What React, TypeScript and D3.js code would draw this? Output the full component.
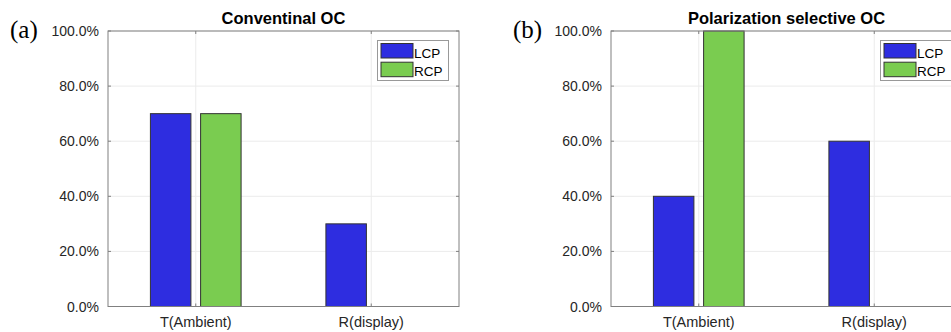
import * as React from "react";
import * as d3 from "d3";

const categories = ["T(Ambient)", "R(display)"];
const seriesNames = ["LCP", "RCP"];
const seriesColors = ["#2e2de0", "#7acc50"];
const yTicks = [0, 20, 40, 60, 80, 100];

// values in percent, null = no bar
const conventionalLCP = [70, 30];
const conventionalRCP = [70, null];
const selectiveLCP = [40, 60];
const selectiveRCP = [100, null];

const panels = [
  { label: "(a)", title: "Conventinal OC", series: [conventionalLCP, conventionalRCP], left: 108 },
  { label: "(b)", title: "Polarization selective OC", series: [selectiveLCP, selectiveRCP], left: 611 },
];

const W = 951;
const H = 332;
const top = 31;
const plotW = 351;
const plotH = 275.5;
const barW = 40.5;
const barOffset = 0.143;
const axisColor = "#808080";
const textColor = "#262626";
const sans = "Arial, 'Liberation Sans', sans-serif";

const Panel = (props) => {
  const { label, title, series, left } = props;

  const x = d3.scaleLinear().domain([0.5, 2.5]).range([0, plotW]);
  const y = d3.scaleLinear().domain([0, 100]).range([plotH, 0]);
  const fmt = (d) => d3.format(".1f")(d) + "%";

  return (
    <g transform={`translate(${left},${top})`}>
      <text x={-98} y={6.5} fontFamily="'Liberation Serif', serif" fontSize={25} fill="#000">
        {label}
      </text>
      <text
        x={plotW / 2}
        y={-7}
        textAnchor="middle"
        fontFamily={sans}
        fontWeight="bold"
        fontSize={16.5}
        fill="#000"
      >
        {title}
      </text>

      {/* grid */}
      {yTicks.map((t) => (
        <line key={"gy" + t} x1={0} x2={plotW} y1={y(t)} y2={y(t)} stroke="#ebebeb" />
      ))}
      {categories.map((c, i) => (
        <line key={"gx" + c} x1={x(i + 1)} x2={x(i + 1)} y1={0} y2={plotH} stroke="#ebebeb" />
      ))}

      {/* bars */}
      {series.map((vals, s) =>
        vals.map((v, i) => {
          if (v === null) return null;
          const cx = x(i + 1 + (s === 0 ? -barOffset : barOffset));
          return (
            <rect
              key={`b${s}-${i}`}
              x={cx - barW / 2}
              y={y(v)}
              width={barW}
              height={plotH - y(v)}
              fill={seriesColors[s]}
              stroke="#333"
              strokeWidth={1}
            />
          );
        })
      )}

      {/* box */}
      <rect x={0} y={0} width={plotW} height={plotH} fill="none" stroke={axisColor} strokeWidth={1} />

      {/* ticks */}
      {yTicks.map((t) => (
        <g key={"ty" + t}>
          <line x1={0} x2={3} y1={y(t)} y2={y(t)} stroke={axisColor} />
          <line x1={plotW - 3} x2={plotW} y1={y(t)} y2={y(t)} stroke={axisColor} />
          <text
            x={-9}
            y={y(t) + 5}
            textAnchor="end"
            fontFamily={sans}
            fontSize={14}
            fill={textColor}
          >
            {fmt(t)}
          </text>
        </g>
      ))}
      {categories.map((c, i) => (
        <g key={"tx" + c}>
          <line x1={x(i + 1)} x2={x(i + 1)} y1={plotH - 3} y2={plotH} stroke={axisColor} />
          <line x1={x(i + 1)} x2={x(i + 1)} y1={0} y2={3} stroke={axisColor} />
          <text
            x={x(i + 1)}
            y={plotH + 20}
            textAnchor="middle"
            fontFamily={sans}
            fontSize={14.5}
            fill={textColor}
          >
            {c}
          </text>
        </g>
      ))}

      {/* legend */}
      <g transform={`translate(${plotW - 81.5},9.5)`}>
        <rect x={0} y={0} width={71} height={40} fill="#fff" stroke="#999" strokeWidth={1} />
        {seriesNames.map((n, s) => (
          <g key={n} transform={`translate(0,${3 + s * 18.7})`}>
            <rect x={3.5} y={0} width={32} height={14.5} fill={seriesColors[s]} stroke="#333" />
            <text x={36.5} y={14} fontFamily={sans} fontSize={13.5} fill="#000">
              {n}
            </text>
          </g>
        ))}
      </g>
    </g>
  );
};

export default () => {
  return (
    <svg
      width={W}
      height={H}
      style={{ position: "absolute", left: 0, top: 0, background: "#fff" }}
    >
      <rect width={W} height={H} fill="#fff" />
      {panels.map((p) => (
        <Panel key={p.label} {...p} />
      ))}
    </svg>
  );
};
